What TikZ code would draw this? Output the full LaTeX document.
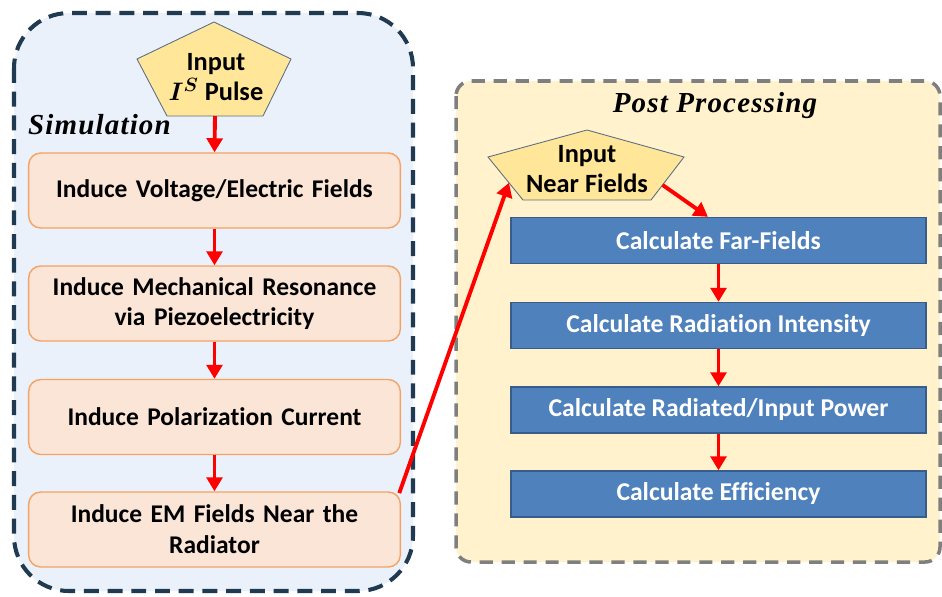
\documentclass[tikz,border=0pt]{standalone}
\usepackage{fontspec}
\usepackage{amsmath,bm}
\setmainfont[Ligatures=NoCommon]{Carlito}
\newfontfamily\capfont[LetterSpace=4]{Liberation Serif}
\usetikzlibrary{positioning, arrows.meta, calc}
\definecolor{simFill}{HTML}{EAF1FA}
\definecolor{simInk}{HTML}{203A52}
\definecolor{postFill}{HTML}{FFF2CC}
\definecolor{postInk}{HTML}{7F7F7F}
\definecolor{stepFill}{HTML}{FBE5D6}
\definecolor{stepInk}{HTML}{F5A264}
\definecolor{calcFill}{HTML}{4F81BD}
\definecolor{calcInk}{HTML}{385D8A}
\definecolor{inFill}{HTML}{FFE699}
\definecolor{inInk}{HTML}{5B6F84}
\definecolor{flowRed}{HTML}{FF0000}
\tikzset{
  stepbox/.style={draw=stepInk, fill=stepFill, line width=0.8pt, rounded corners=0.24cm,
    minimum width=7.34cm, minimum height=1.5cm, align=center, text width=7.2cm,
    font=\fontsize{14.5}{17.5}\selectfont\bfseries},
  calcbox/.style={draw=calcInk, fill=calcFill, line width=0.8pt,
    minimum width=8.3cm, minimum height=0.92cm, align=center, text=white,
    font=\fontsize{14.6}{17.5}\selectfont\bfseries},
  inbox/.style={draw=inInk, fill=inFill, line width=0.5pt},
  intext/.style={align=center, font=\fontsize{15}{17.5}\selectfont\bfseries},
  flow/.style={draw=flowRed, line width=2.2pt, -{Triangle[length=8pt, width=9pt]}},
  captext/.style={font=\capfont\fontsize{16.5}{19}\selectfont\bfseries\itshape}
}

\begin{document}
\begin{tikzpicture}[x=0.02cm, y=-0.02cm]
  \useasboundingbox (0,0) rectangle (942,596);
  % containers
  \draw[simInk, fill=simFill, line width=2.3pt, dash pattern=on 8.5pt off 5pt, rounded corners=1.1cm]
    (14,13) rectangle (413,591);
  \draw[postInk, fill=postFill, line width=2pt, dash pattern=on 7.5pt off 5pt, rounded corners=0.3cm]
    (456,81) rectangle (940,562);
  \node[captext, anchor=west] (simcap) at (22,125) {Simulation};
  \node[captext] (postcap) at (715,106) {Post Processing};

  % input pulse
  \coordinate (psL) at (137,59); \coordinate (psT) at (214,22); \coordinate (psR) at (291,59);
  \coordinate (psBR) at (263,116); \coordinate (psBL) at (167,116);
  \draw[inbox] (psL) -- (psT) -- (psR) -- (psBR) -- (psBL) -- cycle;
  \node[intext] (pulse) at (216,77) {Input\\$\bm{I^S}$ Pulse};
  \coordinate (psB) at ($(psBL)!0.5!(psBR)$);

  % input near fields
  \coordinate (nfL) at (488,157); \coordinate (nfT) at (587,130); \coordinate (nfR) at (684,157);
  \coordinate (nfBR) at (651,200); \coordinate (nfBL) at (523,200);
  \draw[inbox] (nfL) -- (nfT) -- (nfR) -- (nfBR) -- (nfBL) -- cycle;
  \node[intext] (near) at (587,169) {Input\\Near Fields};

  % simulation steps
  \foreach \n/\y/\t in {s1/190.5/{Induce Voltage/Electric Fields},
                        s2/303.5/{Induce Mechanical Resonance\\via Piezoelectricity},
                        s3/417/{Induce Polarization Current},
                        s4/529.5/{Induce EM Fields Near the\\Radiator}} {
    \node[stepbox] (\n) at (214.5,\y) {\t};
  }

  % post processing steps
  \foreach \n/\y/\t in {c1/240.5/{Calculate Far-Fields},
                        c2/325.5/{Calculate Radiation Intensity},
                        c3/410/{Calculate Radiated/Input Power},
                        c4/494/{Calculate Efficiency}} {
    \node[calcbox] (\n) at (718.5,\y) {\t};
  }

  % connectors
  \draw[flow] (psB) -- (s1.north);
  \draw[flow] (s1) -- (s2);
  \draw[flow] (s2) -- (s3);
  \draw[flow] (s3) -- (s4);
  \draw[flow] ([xshift=-1pt,yshift=-1pt]s4.north east) -- ($(nfL)!0.6!(nfBL)$);
  \draw[flow] ($(nfR)!0.65!(nfBR)$) -- ([xshift=-6pt]c1.north);
  \draw[flow] (c1) -- (c2);
  \draw[flow] (c2) -- (c3);
  \draw[flow] (c3) -- (c4);
\end{tikzpicture}
\end{document}
